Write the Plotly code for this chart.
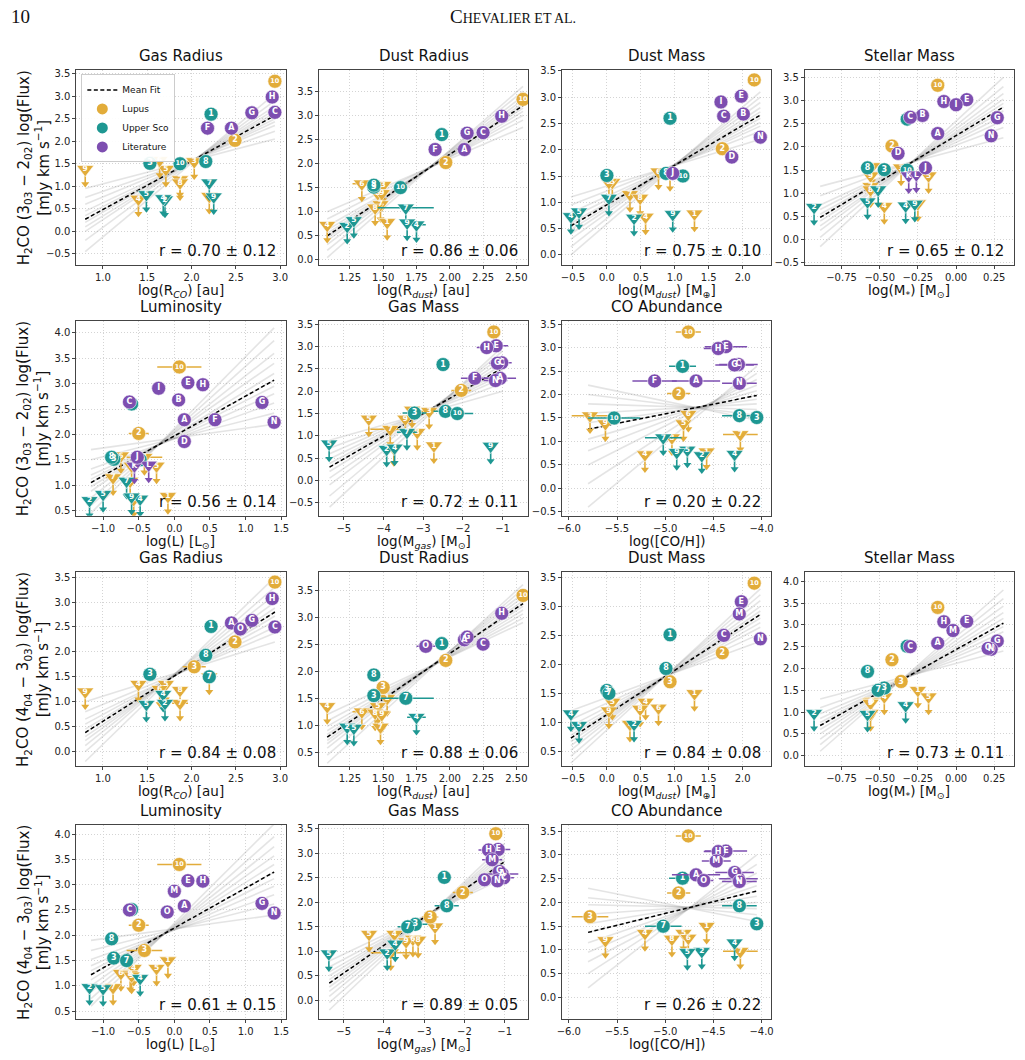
import plotly.graph_objects as go

W, H = 1025, 1060
N = None
FONT = "DejaVu Sans"

# ---------------- source table (order: Lupus 1-10, Upper Sco, Literature) -------------
labels = ["1", "2", "3", "4", "5", "6", "7", "8", "9", "10",
          "1", "2", "3", "4", "5", "7", "8", "9", "10",
          "A", "B", "C", "D", "E", "F", "G", "H", "I", "J", "K", "L", "M", "N", "O"]
groups = ["Lupus"] * 10 + ["Upper Sco"] * 9 + ["Literature"] * 15

r_co = [2.20, 2.49, 2.03, 1.40, 1.71, 1.64, 1.87, 1.87, 0.80, 2.94,
        2.22, 1.70, 1.53, 1.68, 1.49, 2.20, 2.16, 2.25, 1.87,
        2.45, N, 2.94, N, N, 2.18, 2.68, 2.91, N, N, N, N, N, N, 2.55]
r_co_err = [0, 0, 0.13, 0, 0, 0, 0.09, 0, 0, 0,
            0, 0, 0, 0, 0, 0, 0, 0, 0,
            0, 0, 0, 0, 0, 0, 0, 0, 0, 0, 0, 0, 0, 0, 0]

r_dust = [1.53, 1.97, 1.50, 1.08, 1.46, 1.34, 1.48, 1.44, 1.49, 2.55,
          1.94, 1.23, 1.43, 1.75, 1.28, 1.67, 1.43, 1.68, 1.63,
          2.11, N, 2.25, N, N, 1.89, 2.13, 2.39, N, N, N, N, N, N, 1.82]
r_dust_err = [0, 0, 0.04, 0, 0, 0.07, 0.03, 0, 0, 0,
              0, 0, 0, 0.07, 0, 0.21, 0, 0, 0,
              0, 0, 0, 0, 0, 0, 0, 0, 0, 0, 0, 0, 0, 0, 0.07]

m_dust = [1.29, 1.70, 0.93, 0.57, 0.08, 0.76, 0.34, 0.49, 0.03, 2.17,
          0.93, 0.40, 0.00, -0.53, -0.41, 0.03, 0.87, 0.97, 1.12,
          N, 2.01, 1.72, 1.84, 1.98, N, N, N, 1.68, 0.97, N, N, 1.95, 2.26, N]
m_dust_err = [0] * 34

m_star = [-0.25, -0.42, -0.36, -0.47, -0.18, -0.55, -0.56, -0.56, -0.56, -0.12,
          -0.32, -0.93, -0.47, -0.33, -0.58, -0.51, -0.58, -0.27, -0.32,
          -0.12, -0.22, -0.30, -0.38, 0.07, N, 0.27, -0.08, 0.00, -0.20, -0.31, -0.26, -0.02, 0.23, 0.21]
m_star_err = [0.025] * 34

lum = [-0.09, -0.50, -0.42, -0.57, -0.25, -0.75, -0.86, -0.62, -0.60, 0.07,
       -0.60, -1.19, -0.85, -0.48, -1.00, -0.67, -0.88, -0.60, -0.48,
       0.14, 0.06, -0.63, 0.14, 0.19, 0.57, 1.23, 0.40, -0.22, -0.52, -0.56, -0.36, 0.00, 1.40, -0.10]
lum_err = [0, 0.14, 0.25, 0, 0, 0, 0.10, 0, 0, 0.31,
           0, 0, 0, 0, 0, 0, 0, 0, 0,
           0, 0, 0, 0, 0, 0, 0, 0, 0, 0, 0, 0, 0, 0, 0]

m_gas = [-2.73, -2.04, -2.85, -3.74, -4.37, -3.28, -3.83, -3.15, -3.45, -1.22,
         -2.50, -3.92, -3.22, -3.72, -5.37, -3.41, -2.44, -1.30, -2.14,
         -1.06, N, -1.02, N, -1.16, -1.70, -1.13, -1.40, N, N, N, N, -1.31, -1.18, -1.50]
m_gas_err = [0, 0.25, 0.20, 0, 0, 0, 0.50, 0, 0, 0,
             0, 0, 0.30, 0, 0, 0.25, 0.30, 0, 0.40,
             0.40, 0, 0.25, 0, 0.30, 0.35, 0.20, 0.25, 0, 0, 0, 0, 0.25, 0.30, 0.15]

co_h = [-4.57, -4.86, -5.78, -5.21, -4.81, -4.76, -4.22, -4.93, -5.62, -4.76,
        -4.82, -4.62, -4.05, -4.28, -4.77, -5.02, -4.23, -4.88, -5.53,
        -4.68, N, -4.24, N, -4.37, -5.11, -4.28, -4.45, N, N, N, N, -4.47, -4.23, -4.60]
co_h_err = [0, 0.12, 0.19, 0, 0, 0, 0.18, 0, 0, 0.13,
            0.14, 0, 0, 0, 0, 0.19, 0.18, 0, 0.27,
            0.25, 0, 0.20, 0, 0.22, 0.23, 0.20, 0.15, 0, 0, 0, 0, 0.15, 0.18, 0.10]

flux303 = [0.78, 2.02, 1.55, 0.72, 1.38, 1.58, 1.15, 1.08, 1.38, 3.33,
           2.60, 0.70, 1.51, 0.73, 0.82, 1.08, 1.55, 0.77, 1.50,
           2.29, 2.68, 2.64, 1.86, 3.02, 2.29, 2.63, 2.98, 2.91, 1.55, 1.38, 1.40, N, 2.24, N]
ul303 = [1, 0, 1, 1, 1, 1, 1, 1, 1, 0,
         0, 1, 0, 1, 1, 1, 0, 1, 0,
         0, 0, 0, 0, 0, 0, 0, 0, 0, 0, 1, 1, 0, 0, 0]

flux404 = [1.50, 2.20, 1.70, 1.35, 1.35, 1.25, 0.97, 1.23, 1.20, 3.40,
           2.51, 0.97, 1.55, 1.15, 0.95, 1.50, 1.93, N, N,
           2.58, N, 2.50, N, 3.08, N, 2.63, 3.07, N, N, N, N, 2.87, 2.44, 2.46]
ul404 = [1, 0, 0, 1, 1, 1, 1, 1, 1, 0,
         0, 1, 0, 1, 1, 0, 0, 0, 0,
         0, 0, 0, 0, 0, 0, 0, 0, 0, 0, 0, 0, 0, 0, 0]

# ---------------- panels -------------
panel_prop = ["r_co", "r_dust", "m_dust", "m_star", "lum", "m_gas", "co_h",
              "r_co", "r_dust", "m_dust", "m_star", "lum", "m_gas", "co_h"]
panel_flux = ["303"] * 7 + ["404"] * 7
panel_title = ["Gas Radius", "Dust Radius", "Dust Mass", "Stellar Mass", "Luminosity", "Gas Mass", "CO Abundance",
               "Gas Radius", "Dust Radius", "Dust Mass", "Stellar Mass", "Luminosity", "Gas Mass", "CO Abundance"]
r_text = ["0.70 ± 0.12", "0.86 ± 0.06", "0.75 ± 0.10", "0.65 ± 0.12", "0.56 ± 0.14", "0.72 ± 0.11", "0.20 ± 0.22",
          "0.84 ± 0.08", "0.88 ± 0.06", "0.84 ± 0.08", "0.73 ± 0.11", "0.61 ± 0.15", "0.89 ± 0.05", "0.26 ± 0.22"]

x_titles = {
    "r_co": "log(R<sub><i>CO</i></sub>) [au]",
    "r_dust": "log(R<sub><i>dust</i></sub>) [au]",
    "m_dust": "log(M<sub><i>dust</i></sub>) [M<sub>⊕</sub>]",
    "m_star": "log(M<sub>*</sub>) [M<sub>⊙</sub>]",
    "lum": "log(L) [L<sub>⊙</sub>]",
    "m_gas": "log(M<sub><i>gas</i></sub>) [M<sub>⊙</sub>]",
    "co_h": "log([CO/H])",
}
x_tickvals = {
    "r_co": [1.0, 1.5, 2.0, 2.5, 3.0],
    "r_dust": [1.25, 1.5, 1.75, 2.0, 2.25, 2.5],
    "m_dust": [-0.5, 0.0, 0.5, 1.0, 1.5, 2.0],
    "m_star": [-0.75, -0.5, -0.25, 0.0, 0.25],
    "lum": [-1.0, -0.5, 0.0, 0.5, 1.0, 1.5],
    "m_gas": [-5, -4, -3, -2, -1],
    "co_h": [-6.0, -5.5, -5.0, -4.5, -4.0],
}
x_tickfmt = {"r_co": ".1f", "r_dust": ".2f", "m_dust": ".1f", "m_star": ".2f",
             "lum": ".1f", "m_gas": "d", "co_h": ".1f"}

x_ranges = [[0.70, 3.06], [1.02, 2.59], [-0.66, 2.42], [-0.99, 0.38], [-1.375, 1.56], [-5.62, -0.35], [-6.07, -3.90],
            [0.70, 3.06], [1.02, 2.59], [-0.66, 2.42], [-0.99, 0.38], [-1.375, 1.56], [-5.61, -0.41], [-6.07, -3.90]]
y_ranges = [[-0.74, 3.57], [-0.10, 3.93], [-0.19, 3.51], [-0.54, 3.65], [0.40, 4.23], [-0.79, 3.57], [-0.58, 3.56],
            [-0.30, 3.60], [0.24, 3.83], [0.24, 3.59], [-0.25, 4.21], [0.34, 4.18], [-0.39, 3.58], [-0.46, 3.63]]

fit_x0 = [0.80, 1.08, -0.53, -0.89, -1.17, -5.36, -5.80, 0.80, 1.08, -0.53, -0.89, -1.17, -5.36, -5.80]
fit_x1 = [2.94, 2.55, 2.26, 0.31, 1.40, -1.00, -4.05, 2.94, 2.55, 2.26, 0.31, 1.40, -1.00, -4.05]
fit_y0 = [0.27, 0.50, 0.55, 0.48, 1.05, 0.30, 1.26, 0.38, 0.78, 0.73, 0.69, 1.22, 0.35, 1.37]
fit_y1 = [2.57, 3.20, 2.66, 2.86, 3.07, 2.52, 1.98, 2.80, 3.25, 2.86, 3.04, 3.25, 2.83, 2.24]

fan_left = [
    [-0.45, -0.2, 0.0, 0.1, 0.2, 0.27, 0.35, 0.45, 0.6, 0.75, 0.95],
    [0.05, 0.2, 0.32, 0.4, 0.46, 0.5, 0.55, 0.62, 0.7, 0.85, 1.0],
    [0.0, 0.15, 0.3, 0.4, 0.48, 0.55, 0.6, 0.7, 0.8, 0.95, 1.1],
    [-0.15, 0.05, 0.2, 0.3, 0.4, 0.48, 0.55, 0.65, 0.75, 0.95, 1.15],
    [0.45, 0.6, 0.75, 0.88, 0.97, 1.05, 1.12, 1.2, 1.32, 1.5, 1.7],
    [-0.6, -0.35, -0.1, 0.05, 0.2, 0.3, 0.38, 0.48, 0.6, 0.72, 0.9],
    [-0.4, 0.1, 0.5, 0.8, 1.05, 1.26, 1.4, 1.6, 1.8, 2.0, 2.2],
    [-0.2, 0.0, 0.12, 0.22, 0.3, 0.38, 0.45, 0.55, 0.65, 0.8, 1.0],
    [0.3, 0.45, 0.58, 0.66, 0.72, 0.78, 0.83, 0.9, 0.98, 1.08, 1.2],
    [0.3, 0.42, 0.52, 0.6, 0.67, 0.73, 0.78, 0.85, 0.94, 1.05, 1.2],
    [0.1, 0.25, 0.38, 0.5, 0.6, 0.69, 0.76, 0.85, 0.96, 1.1, 1.3],
    [0.6, 0.75, 0.88, 1.0, 1.12, 1.22, 1.3, 1.4, 1.52, 1.7, 1.9],
    [-0.2, -0.05, 0.08, 0.18, 0.27, 0.35, 0.42, 0.5, 0.58, 0.68, 0.8],
    [0.2, 0.5, 0.75, 0.95, 1.15, 1.37, 1.55, 1.75, 1.95, 2.1, 2.3],
]
fan_right = [
    [3.05, 2.9, 2.78, 2.7, 2.63, 2.57, 2.5, 2.43, 2.35, 2.22, 2.05],
    [3.6, 3.5, 3.4, 3.32, 3.25, 3.2, 3.15, 3.08, 3.0, 2.9, 2.75],
    [3.1, 3.0, 2.9, 2.8, 2.72, 2.66, 2.6, 2.52, 2.45, 2.35, 2.2],
    [3.5, 3.3, 3.15, 3.03, 2.94, 2.86, 2.78, 2.68, 2.57, 2.42, 2.2],
    [4.1, 3.85, 3.6, 3.4, 3.2, 3.07, 2.95, 2.8, 2.62, 2.42, 2.2],
    [3.0, 2.9, 2.8, 2.7, 2.6, 2.52, 2.46, 2.38, 2.3, 2.18, 2.0],
    [2.6, 2.45, 2.32, 2.2, 2.08, 1.98, 1.9, 1.8, 1.68, 1.56, 1.45],
    [3.5, 3.3, 3.15, 3.0, 2.88, 2.8, 2.72, 2.62, 2.5, 2.38, 2.2],
    [3.6, 3.52, 3.44, 3.37, 3.3, 3.25, 3.2, 3.13, 3.06, 2.98, 2.9],
    [3.3, 3.2, 3.1, 3.0, 2.92, 2.86, 2.8, 2.72, 2.64, 2.53, 2.4],
    [3.8, 3.6, 3.43, 3.28, 3.15, 3.04, 2.96, 2.84, 2.72, 2.58, 2.4],
    [4.2, 3.95, 3.75, 3.57, 3.4, 3.25, 3.12, 2.97, 2.8, 2.62, 2.4],
    [3.2, 3.1, 3.02, 2.95, 2.88, 2.83, 2.78, 2.72, 2.65, 2.58, 2.5],
    [3.0, 2.8, 2.62, 2.48, 2.35, 2.24, 2.13, 2.0, 1.87, 1.74, 1.6],
]

COLORS = {"Lupus": "#E2AC3A", "Upper Sco": "#1E9792", "Literature": "#7D4EB0"}
GROUP_ORDER = ["Lupus", "Upper Sco", "Literature"]

props = {"r_co": (r_co, r_co_err), "r_dust": (r_dust, r_dust_err), "m_dust": (m_dust, m_dust_err),
         "m_star": (m_star, m_star_err), "lum": (lum, lum_err), "m_gas": (m_gas, m_gas_err),
         "co_h": (co_h, co_h_err)}
fluxes = {"303": (flux303, ul303), "404": (flux404, ul404)}

# ---------------- layout geometry (pixels) -------------
col_left = [72, 317, 562, 807]
row_top = [66, 319, 572, 827]
PW, PH = 211, 196
panel_row = [0, 0, 0, 0, 1, 1, 1, 2, 2, 2, 2, 3, 3, 3]
panel_col = [0, 1, 2, 3, 0, 1, 2, 0, 1, 2, 3, 0, 1, 2]


def px_x(p):
    return p / W


def px_y(p):
    return 1 - p / H


fig = go.Figure()
layout = dict(
    width=W, height=H, margin=dict(l=0, r=0, t=0, b=0),
    paper_bgcolor="white", plot_bgcolor="white",
    font=dict(family=FONT, color="#222"),
    showlegend=True,
)
annotations = []

ylab303 = "H<sub>2</sub>CO (3<sub>03</sub> − 2<sub>02</sub>) log(Flux)<br>[mJy km s<sup>−1</sup>]"
ylab404 = "H<sub>2</sub>CO (4<sub>04</sub> − 3<sub>03</sub>) log(Flux)<br>[mJy km s<sup>−1</sup>]"
GRID = dict(showgrid=True, gridcolor="#d4d4d4", griddash="1px,2px", gridwidth=1)

for k in range(14):
    ax = k + 1
    xa = "x" if ax == 1 else f"x{ax}"
    ya = "y" if ax == 1 else f"y{ax}"
    xkey = "xaxis" if ax == 1 else f"xaxis{ax}"
    ykey = "yaxis" if ax == 1 else f"yaxis{ax}"
    r, c = panel_row[k], panel_col[k]
    L, T = col_left[c], row_top[r]
    prop = panel_prop[k]
    xr, yr = x_ranges[k], y_ranges[k]

    layout[xkey] = dict(
        domain=[px_x(L), px_x(L + PW)], anchor=ya, range=xr,
        tickvals=x_tickvals[prop], tickformat=x_tickfmt[prop], **GRID,
        zeroline=False, showline=True, mirror=True, linecolor="#444", linewidth=1,
        ticks="outside", ticklen=3, tickcolor="#444", tickfont=dict(size=10, family=FONT),
        ticklabelstandoff=0,
    )
    layout[ykey] = dict(
        domain=[px_y(T + PH), px_y(T)], anchor=xa, range=yr,
        tick0=0, dtick=0.5, tickformat=".1f", **GRID,
        zeroline=False, showline=True, mirror=True, linecolor="#444", linewidth=1,
        ticks="outside", ticklen=3, tickcolor="#444", tickfont=dict(size=10, family=FONT),
    )

    # posterior sample lines
    for yl, yrr in zip(fan_left[k], fan_right[k]):
        fig.add_trace(go.Scatter(x=[fit_x0[k], fit_x1[k]], y=[yl, yrr], mode="lines",
                                 line=dict(color="rgba(130,130,130,0.22)", width=1.6),
                                 xaxis=xa, yaxis=ya, showlegend=False, hoverinfo="skip"))
    # mean fit
    fig.add_trace(go.Scatter(x=[fit_x0[k], fit_x1[k]], y=[fit_y0[k], fit_y1[k]], mode="lines",
                             line=dict(color="black", width=1.5, dash="4px,2.5px"),
                             xaxis=xa, yaxis=ya, showlegend=False, hoverinfo="skip"))

    xv, xe = props[prop]
    fv, ul = fluxes[panel_flux[k]]
    arrow_len = 15 * (yr[1] - yr[0]) / PH

    for g in GROUP_ORDER:
        col = COLORS[g]
        idx = [i for i in range(len(labels)) if groups[i] == g and xv[i] is not None and fv[i] is not None]
        lim = [i for i in idx if ul[i]]
        det = [i for i in idx if not ul[i]]
        if lim:
            fig.add_trace(go.Scatter(
                x=[xv[i] for i in lim], y=[fv[i] for i in lim], mode="markers",
                marker=dict(size=1, opacity=0),
                error_y=dict(type="data", symmetric=False, array=[0] * len(lim),
                             arrayminus=[arrow_len] * len(lim), color=col, thickness=1.6, width=0),
                xaxis=xa, yaxis=ya, showlegend=False, hoverinfo="skip"))
            fig.add_trace(go.Scatter(
                x=[xv[i] for i in lim], y=[fv[i] - arrow_len for i in lim], mode="markers",
                marker=dict(symbol="triangle-down", size=7, color=col, line=dict(width=0)),
                xaxis=xa, yaxis=ya, showlegend=False, hoverinfo="skip"))
            fig.add_trace(go.Scatter(
                x=[xv[i] for i in lim], y=[fv[i] for i in lim], mode="markers+text",
                marker=dict(symbol="triangle-down", size=15, color=col, line=dict(color="white", width=0.6)),
                error_x=dict(type="data", array=[xe[i] for i in lim], color=col, thickness=1.5, width=0),
                text=[labels[i] for i in lim], textposition="middle center",
                textfont=dict(color="white", size=[6.5 if len(labels[i]) > 1 else 7.5 for i in lim],
                              family=FONT, weight="bold"),
                xaxis=xa, yaxis=ya, showlegend=False, hoverinfo="skip"))
        if det:
            fig.add_trace(go.Scatter(
                x=[xv[i] for i in det], y=[fv[i] for i in det], mode="markers+text",
                marker=dict(symbol="circle", size=14, color=col, line=dict(color="white", width=0.6)),
                error_x=dict(type="data", array=[xe[i] for i in det], color=col, thickness=1.5, width=0),
                text=[labels[i] for i in det], textposition="middle center",
                textfont=dict(color="white", size=[6.5 if len(labels[i]) > 1 else 8 for i in det],
                              family=FONT, weight="bold"),
                xaxis=xa, yaxis=ya, showlegend=False, hoverinfo="skip"))

    # panel title
    annotations.append(dict(text=panel_title[k], x=px_x(L + PW / 2), y=px_y(T - 3), xref="paper", yref="paper",
                            xanchor="center", yanchor="bottom", showarrow=False,
                            font=dict(size=15, family=FONT, color="#111")))
    # x axis title
    annotations.append(dict(text=x_titles[prop], x=px_x(L + PW / 2), y=px_y(T + PH + 15), xref="paper",
                            yref="paper", xanchor="center", yanchor="top", showarrow=False,
                            font=dict(size=13.5, family=FONT, color="#111")))
    # correlation coefficient
    annotations.append(dict(text="r = " + r_text[k], x=px_x(L + PW - 8), y=px_y(T + PH - 3),
                            xref="paper", yref="paper", xanchor="right", yanchor="bottom", showarrow=False,
                            font=dict(size=15, family=FONT, color="#111")))
    if c == 0:
        annotations.append(dict(text=ylab303 if panel_flux[k] == "303" else ylab404,
                                x=px_x(29), y=px_y(T + PH / 2), xref="paper", yref="paper",
                                xanchor="center", yanchor="middle", textangle=-90, showarrow=False,
                                font=dict(size=15, family=FONT, color="#111")))

# legend entries
fig.add_trace(go.Scatter(x=[None], y=[None], mode="lines", name="Mean Fit",
                         line=dict(color="black", width=1.5, dash="4px,2.5px")))
for g in GROUP_ORDER:
    fig.add_trace(go.Scatter(x=[None], y=[None], mode="markers", name=g,
                             marker=dict(size=11, color=COLORS[g])))

layout["legend"] = dict(x=px_x(77), y=px_y(70), xanchor="left", yanchor="top",
                        bgcolor="rgba(255,255,255,0.92)", bordercolor="#cccccc", borderwidth=1,
                        font=dict(size=9, family=FONT, color="#111"), tracegroupgap=0,
                        itemwidth=30)

# page header
annotations.append(dict(text="10", x=px_x(4), y=px_y(12), xref="paper", yref="paper",
                        xanchor="left", yanchor="middle", showarrow=False,
                        font=dict(size=19, family="Liberation Serif", color="#111")))
annotations.append(dict(text="C<span style='font-size:14px'>HEVALIER ET AL.</span>", x=0.5, y=px_y(12),
                        xref="paper", yref="paper", xanchor="center", yanchor="middle", showarrow=False,
                        font=dict(size=19, family="Liberation Serif", color="#111")))

layout["annotations"] = annotations
fig.update_layout(**layout)
fig.write_html("out.html")
